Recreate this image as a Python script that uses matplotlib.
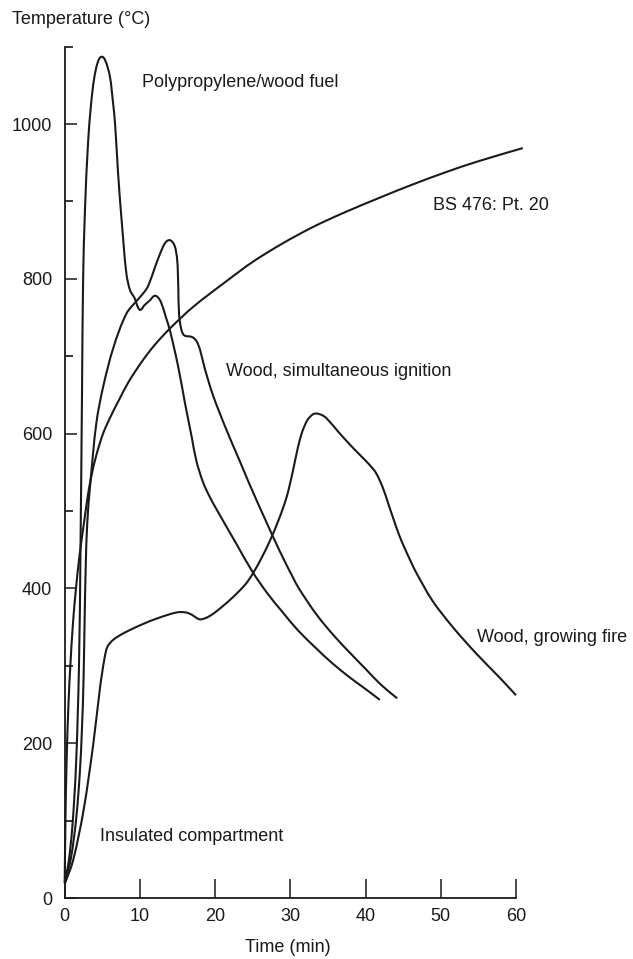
import matplotlib
matplotlib.use("Agg")
import numpy as np
import matplotlib.pyplot as plt
from matplotlib.ticker import MultipleLocator
from matplotlib.path import Path
from matplotlib.patches import PathPatch

plt.rcParams['font.family'] = ['Liberation Sans', 'DejaVu Sans']

# ---- data ----
pp_t = [0.0, 0.5, 1.0, 1.5, 1.9, 2.1, 2.3, 2.45, 2.7, 3.1, 3.5, 3.9, 4.4, 4.9, 5.4, 6.0, 6.4, 6.7,
        7.1, 7.6, 8.2, 8.7, 9.3, 9.8, 10.1, 10.6, 11.3, 11.9, 12.3, 12.8, 13.4, 14.0, 15.1, 16.0,
        16.9, 17.5, 18.4, 19.3, 20.2, 22.8, 25.0, 27.0, 29.0, 31.0, 33.5, 35.5, 37.9, 40.0, 41.9]
pp_T = [20, 45, 90, 170, 300, 450, 650, 800, 890, 975, 1025, 1058, 1080, 1087, 1082, 1062, 1030, 1000,
        936, 872, 807, 785, 775, 762, 760, 766, 772, 778, 777, 770, 752, 733, 686, 639,
        595, 565, 537, 518, 502, 458, 421, 393, 369, 346, 322, 304, 285, 270, 256]

wsi_t = [0.0, 0.8, 1.5, 2.0, 2.3, 2.5, 2.65, 2.8, 3.0, 3.4, 4.2, 5.1, 6.5, 8.2, 9.6, 10.5, 11.1, 12.0,
         12.7, 13.4, 14.0, 14.6, 14.95, 15.1, 15.2, 15.5, 15.9, 16.9, 17.5, 18.0, 18.6, 19.7, 21.5,
         23.3, 24.6, 26.8, 28.6, 30.3, 31.2, 33.5, 35.7, 38.0, 40.1, 42.0, 44.2]
wsi_T = [20, 50, 100, 160, 220, 280, 360, 430, 485, 535, 613, 660, 712, 755, 772, 782, 791, 815,
         833, 847, 850, 843, 825, 790, 755, 735, 727, 725, 720, 708, 685, 650, 605,
         564, 534, 486, 448, 415, 399, 366, 340, 316, 295, 276, 258]

gf_t = [0.0, 1.1, 2.5, 3.8, 4.7, 5.3, 5.7, 6.5, 8.0, 10.4, 12.5, 14.9, 16.1, 16.9, 17.5, 18.0, 18.8,
        19.7, 21.0, 22.4, 24.0, 25.0, 26.2, 27.3, 28.5, 29.5, 30.3, 31.0, 31.6, 32.3, 33.0, 33.5,
        34.2, 34.8, 36.5, 38.0, 39.2, 40.5, 41.4, 42.3, 43.0, 43.7, 44.5, 45.2, 46.0, 46.7, 48.9,
        51.6, 54.7, 57.8, 60.0]
gf_T = [18, 48, 113, 199, 272, 310, 325, 334, 343, 354, 362, 369, 369, 366, 362, 360, 362,
        367, 377, 389, 405, 419, 440, 462, 490, 518, 550, 582, 603, 618, 625, 626,
        624, 620, 601, 585, 573, 560, 549, 530, 510, 490, 468, 452, 435, 421, 384,
        350, 316, 285, 262]

bs_t = [0.0, 0.1, 0.25, 0.5, 0.75, 1.1, 1.5, 2.0, 2.5, 3.0, 3.5, 4.2, 5.1, 6.0, 7.3, 8.5, 10.4,
        12.0, 14.0, 17.1, 21.5, 25.0, 29.0, 33.0, 37.0, 41.9, 46.0, 50.7, 55.0, 60.9]
bs_T = [20, 100, 175, 250, 300, 355, 400, 445, 480, 515, 543, 572, 600, 620, 645, 667, 695,
        715, 736, 764, 797, 822, 846, 867, 885, 905, 921, 938, 952, 969]

x_ticks = [0, 10, 20, 30, 40, 50, 60]
x_ticklabels = ['0', '10', '20', '30', '40', '50', '60']
y_ticks = [0, 200, 400, 600, 800, 1000]
y_ticklabels = ['0', '200', '400', '600', '800', '1000']

# ---- figure ----
fig = plt.figure(figsize=(6.33, 9.59), dpi=100)
ax = fig.add_axes([0.1022, 0.0636, 0.7130, 0.8877])
ax.set_xlim(0, 60)
ax.set_ylim(0, 1100)

lc = '#1a1a1a'
lw = 1.5


def smooth_path(xs, ys):
    """Smooth curve through the read points (Bezier segments, built in display space)."""
    pts = ax.transData.transform(np.column_stack([xs, ys]))
    n = len(pts)
    tang = np.zeros_like(pts)
    for i in range(n):
        a = pts[max(i - 1, 0)]
        b = pts[min(i + 1, n - 1)]
        d = b - a
        nrm = np.hypot(*d)
        tang[i] = d / nrm if nrm > 0 else 0
    verts = [pts[0]]
    codes = [Path.MOVETO]
    for i in range(n - 1):
        seg = np.hypot(*(pts[i + 1] - pts[i])) / 3.0
        verts += [pts[i] + tang[i] * seg, pts[i + 1] - tang[i + 1] * seg, pts[i + 1]]
        codes += [Path.CURVE4] * 3
    verts = ax.transData.inverted().transform(np.array(verts))
    return Path(verts, codes)


for t, T in [(pp_t, pp_T), (wsi_t, wsi_T), (gf_t, gf_T), (bs_t, bs_T)]:
    patch = PathPatch(smooth_path(t, T), facecolor='none', edgecolor=lc, lw=lw,
                      clip_on=False, joinstyle='round', capstyle='butt')
    ax.add_patch(patch)

for s in ['top', 'right']:
    ax.spines[s].set_visible(False)
for s in ['left', 'bottom']:
    ax.spines[s].set_linewidth(1.3)
    ax.spines[s].set_color(lc)

ax.set_xticks(x_ticks)
ax.set_xticklabels(x_ticklabels)
ax.set_yticks(y_ticks)
ax.set_yticklabels(y_ticklabels)
ax.yaxis.set_minor_locator(MultipleLocator(100))
ax.tick_params(axis='x', direction='in', length=14, width=1.1, pad=7.5, labelsize=13, colors=lc)
ax.tick_params(axis='y', which='major', direction='in', length=8.5, width=1.1, pad=9,
               labelsize=13, colors=lc)
ax.tick_params(axis='y', which='minor', direction='in', length=5.5, width=1.1)

fs = 13
ax.text(10.3, 1054, 'Polypropylene/wood fuel', fontsize=fs, va='center', ha='left', color=lc)
ax.text(48.9, 895, 'BS 476: Pt. 20', fontsize=fs, va='center', ha='left', color=lc)
ax.text(21.5, 680, 'Wood, simultaneous ignition', fontsize=fs, va='center', ha='left', color=lc)
ax.text(54.8, 337, 'Wood, growing fire', fontsize=fs, va='center', ha='left', color=lc, clip_on=False)
ax.text(4.7, 80, 'Insulated compartment', fontsize=fs, va='center', ha='left', color=lc)

fig.text(0.0185, 1 - 19 / 959, 'Temperature (°C)', fontsize=fs, va='center', ha='left', color=lc)
fig.text(288 / 633, 1 - 947 / 959, 'Time (min)', fontsize=fs, va='center', ha='center', color=lc)

fig.savefig('out.png', dpi=100, facecolor='white')
